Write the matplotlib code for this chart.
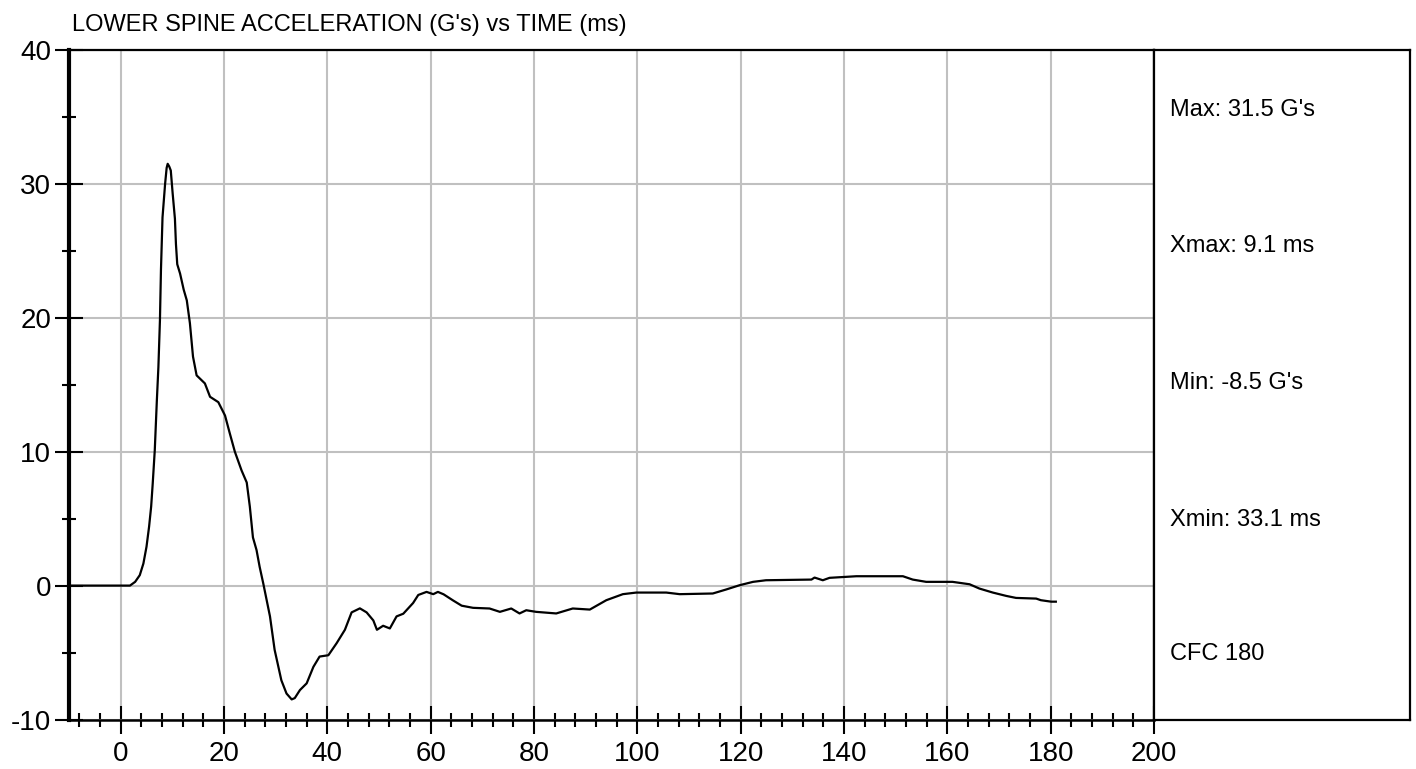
import matplotlib
matplotlib.use("Agg")
import matplotlib.pyplot as plt
from matplotlib.ticker import MultipleLocator

# time (ms) and lower spine acceleration (G's)
time_ms = [-10, 1.8, 2.8, 3.7, 4.4, 5.0, 5.5, 5.9, 6.2, 6.6, 7.0, 7.3, 7.6, 7.8, 8.1,
           8.6, 8.9, 9.1, 9.4, 9.7, 10.06, 10.5, 10.7, 10.95, 11.5, 12.2, 12.8, 13.4,
           14.0, 14.7, 16.3, 17.3, 18.9, 20.2, 21.1, 22.1, 23.4, 24.4, 25.0, 25.6,
           26.3, 26.9, 27.6, 28.9, 29.8, 31.1, 32.1, 33.1, 33.7, 34.7, 36.0, 37.3,
           38.5, 40.2, 41.8, 43.4, 44.7, 46.3, 47.6, 48.9, 49.6, 50.8, 52.1, 53.4,
           54.7, 56.6, 57.6, 59.2, 60.5, 61.4, 62.5, 64.3, 66.0, 68.2, 71.4, 73.4,
           75.6, 77.2, 78.5, 80.4, 84.3, 87.5, 90.8, 94.0, 97.2, 99.8, 105.6, 108.2,
           114.6, 117.2, 119.8, 122.4, 124.9, 133.7, 134.3, 135.9, 137.2, 142.4,
           151.4, 153.3, 155.9, 161.0, 164.3, 166.2, 168.8, 171.4, 173.3, 177.2,
           178.1, 180.1, 181.0]
accel_g = [0, 0, 0.28, 0.78, 1.65, 2.9, 4.4, 5.9, 7.6, 10.1, 13.8, 16.3, 19.8, 23.6, 27.5,
           30.0, 31.2, 31.5, 31.3, 31.0, 29.3, 27.4, 25.5, 24.0, 23.3, 22.1, 21.3, 19.6,
           17.1, 15.7, 15.1, 14.1, 13.7, 12.7, 11.4, 10.0, 8.6, 7.7, 5.9, 3.6,
           2.65, 1.4, 0.16, -2.3, -4.8, -7.07, -8.06, -8.5, -8.4, -7.8, -7.3, -6.07,
           -5.3, -5.2, -4.3, -3.3, -2.0, -1.7, -2.0, -2.6, -3.3, -3.0, -3.2, -2.3,
           -2.1, -1.3, -0.7, -0.47, -0.64, -0.47, -0.65, -1.1, -1.5, -1.66, -1.71, -1.96,
           -1.71, -2.08, -1.84, -1.96, -2.08, -1.71, -1.79, -1.09, -0.64, -0.52, -0.52, -0.64,
           -0.59, -0.29, 0.03, 0.28, 0.4, 0.45, 0.6, 0.4, 0.58, 0.7,
           0.7, 0.45, 0.28, 0.28, 0.1, -0.22, -0.52, -0.77, -0.92, -0.97,
           -1.09, -1.2, -1.2]

title = "LOWER SPINE ACCELERATION (G's) vs TIME (ms)"
stats = ["Max: 31.5 G's", "Xmax: 9.1 ms", "Min: -8.5 G's", "Xmin: 33.1 ms", "CFC 180"]

plt.rcParams['font.family'] = ['Liberation Sans', 'DejaVu Sans']
plt.rcParams['axes.unicode_minus'] = False

W, H = 1416, 769
fig = plt.figure(figsize=(W / 100, H / 100), dpi=100)

ax = fig.add_axes([69 / W, 1 - 719.5 / H, (1154 - 69) / W, (719.5 - 50) / H])
ax.plot(time_ms, accel_g, color='black', lw=1.6, zorder=3)
ax.set_xlim(-10, 200)
ax.set_ylim(-10, 40)

ax.xaxis.set_major_locator(MultipleLocator(20))
ax.xaxis.set_minor_locator(MultipleLocator(4))
ax.yaxis.set_major_locator(MultipleLocator(10))
ax.yaxis.set_minor_locator(MultipleLocator(5))
ax.tick_params(which='major', direction='inout', length=19.5, width=1.5,
               labelsize=20, colors='black')
ax.tick_params(which='minor', direction='inout', length=10, width=1.5)
ax.tick_params(axis='x', which='major', pad=6)
ax.tick_params(axis='y', which='major', pad=3)
ax.grid(True, which='major', color='#c0c0c0', lw=1.5, zorder=0)

ax.spines['left'].set_linewidth(3)
ax.spines['bottom'].set_linewidth(1.8)
ax.spines['top'].set_linewidth(1.6)
ax.spines['right'].set_linewidth(1.6)

# side panel with summary values
side = fig.add_axes([1154 / W, 1 - 719.5 / H, (1410 - 1154) / W, (719.5 - 50) / H])
side.set_xticks([])
side.set_yticks([])
for s in side.spines.values():
    s.set_linewidth(1.6)
for txt, yp in zip(stats, [110, 246, 383, 520, 654]):
    fig.text(1170 / W, 1 - yp / H, txt, fontsize=17, va='center', ha='left')

fig.text(72 / W, 1 - 31 / H, title, fontsize=17, va='baseline', ha='left')

plt.savefig('out.png', dpi=100)
